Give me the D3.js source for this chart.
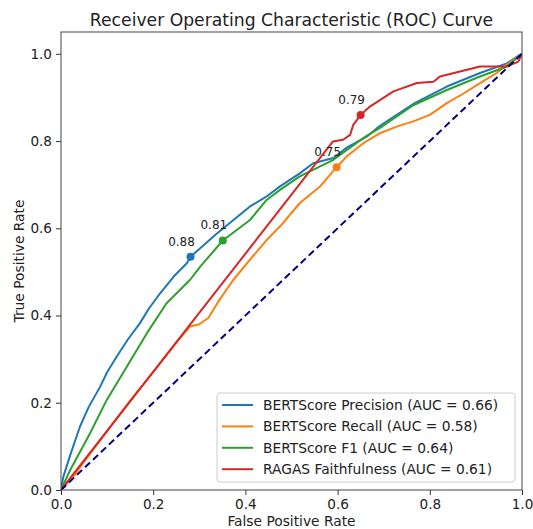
<!DOCTYPE html>
<html>
<head>
<meta charset="utf-8">
<script src="https://cdn.jsdelivr.net/npm/d3@7"></script>
<style>
  body { margin: 0; background: #fff; }
  svg { display: block; font-family: "DejaVu Sans", sans-serif; }
</style>
</head>
<body>
<svg id="chart" width="533" height="529"></svg>
<script>
// ROC points: [fpr, tpr]
const precisionPts = [[0,0],[0.005,0.03],[0.02,0.08],[0.041,0.145],[0.06,0.19],[0.085,0.237],[0.1,0.27],[0.121,0.306],[0.145,0.345],[0.171,0.382],[0.19,0.415],[0.215,0.451],[0.245,0.49],[0.273,0.52],[0.281,0.535],[0.302,0.554],[0.335,0.585],[0.374,0.619],[0.41,0.65],[0.446,0.673],[0.475,0.696],[0.518,0.726],[0.547,0.749],[0.591,0.761],[0.62,0.785],[0.663,0.81],[0.692,0.835],[0.764,0.885],[0.837,0.925],[0.909,0.956],[0.967,0.978],[0.996,0.998],[1,1]];
const recallPts = [[0,0],[0.03,0.035],[0.05,0.065],[0.1,0.135],[0.15,0.205],[0.2,0.27],[0.25,0.338],[0.28,0.375],[0.3,0.38],[0.32,0.395],[0.34,0.43],[0.374,0.482],[0.41,0.528],[0.446,0.573],[0.475,0.604],[0.518,0.658],[0.562,0.696],[0.598,0.74],[0.62,0.765],[0.656,0.795],[0.692,0.818],[0.728,0.833],[0.764,0.845],[0.8,0.86],[0.837,0.887],[0.873,0.909],[0.909,0.933],[0.945,0.956],[0.967,0.975],[1,1]];
const f1Pts = [[0,0],[0.02,0.046],[0.063,0.13],[0.099,0.206],[0.143,0.283],[0.186,0.359],[0.229,0.428],[0.28,0.482],[0.302,0.512],[0.351,0.572],[0.41,0.619],[0.446,0.665],[0.475,0.688],[0.518,0.719],[0.591,0.757],[0.663,0.812],[0.692,0.83],[0.764,0.882],[0.837,0.917],[0.909,0.948],[0.967,0.971],[1,1]];
const ragasPts = [[0,0],[0.59,0.799],[0.612,0.803],[0.627,0.814],[0.634,0.837],[0.65,0.86],[0.67,0.879],[0.721,0.914],[0.772,0.933],[0.808,0.936],[0.822,0.948],[0.909,0.971],[0.967,0.971],[0.992,0.982],[1,1]];

const seriesNames = ["BERTScore Precision", "BERTScore Recall", "BERTScore F1", "RAGAS Faithfulness"];
const aucValues = [0.66, 0.58, 0.64, 0.61];
const seriesColors = ["#1f77b4", "#ff7f0e", "#2ca02c", "#d62728"];
// best threshold markers
const optPoints = [[0.281,0.535],[0.598,0.74],[0.351,0.572],[0.65,0.86]];
const optThresholds = [0.88, 0.75, 0.81, 0.79];

const xTicks = [0, 0.2, 0.4, 0.6, 0.8, 1.0];
const yTicks = [0, 0.2, 0.4, 0.6, 0.8, 1.0];

const canvas = {"width": 533, "height": 529,
	"marginLeft": 61, "marginTop": 32, "marginRight": 11, "marginBottom": 39};

const svg = d3.select("#chart");

const x = d3.scaleLinear()
	.domain([0, 1])
	.range([canvas.marginLeft, canvas.width - canvas.marginRight]);

const y = d3.scaleLinear()
	.domain([0, 1.05])
	.range([canvas.height - canvas.marginBottom, canvas.marginTop]);

svg.append("clipPath").attr("id", "clip")
	.append("rect")
	.attr("x", x(0)).attr("y", y(1.05))
	.attr("width", x(1) - x(0)).attr("height", y(0) - y(1.05));

// axes
svg.append("g")
	.attr("transform", `translate(0,${y(0)})`)
	.call(d3.axisBottom(x).tickValues(xTicks).tickFormat(d3.format(".1f")).tickSizeOuter(0).tickSize(5).tickPadding(4))
	.call(g => g.select(".domain").remove())
	.call(g => g.selectAll("line").attr("stroke", "#333"))
	.call(g => g.selectAll("text").attr("font-size", 13.6).attr("fill", "#222").attr("font-family", "DejaVu Sans"));

svg.append("g")
	.attr("transform", `translate(${x(0)},0)`)
	.call(d3.axisLeft(y).tickValues(yTicks).tickFormat(d3.format(".1f")).tickSizeOuter(0).tickSize(5).tickPadding(4))
	.call(g => g.select(".domain").remove())
	.call(g => g.selectAll("line").attr("stroke", "#333"))
	.call(g => g.selectAll("text").attr("font-size", 13.6).attr("fill", "#222").attr("font-family", "DejaVu Sans"));

const plot = svg.append("g").attr("clip-path", "url(#clip)");

const line = d3.line()
	.x(d => x(d[0]))
	.y(d => y(d[1]));

const allPts = [precisionPts, recallPts, f1Pts, ragasPts];

allPts.forEach((pts, i) => {
	plot.append("path")
		.datum(pts)
		.attr("d", line)
		.attr("fill", "none")
		.attr("stroke", seriesColors[i])
		.attr("stroke-width", 2)
		.attr("stroke-linejoin", "round");
});

// chance line
plot.append("path")
	.datum([[0, 0], [1, 1]])
	.attr("d", line)
	.attr("fill", "none")
	.attr("stroke", "navy")
	.attr("stroke-width", 2)
	.attr("stroke-dasharray", "7,4");

optPoints.forEach((p, i) => {
	svg.append("circle")
		.attr("cx", x(p[0]))
		.attr("cy", y(p[1]))
		.attr("r", 4)
		.attr("fill", seriesColors[i]);
	svg.append("text")
		.attr("x", x(p[0]) - 9)
		.attr("y", y(p[1]) - 11)
		.attr("text-anchor", "middle")
		.attr("font-size", 12)
		.attr("fill", "#222")
		.text(optThresholds[i].toFixed(2));
});

// frame
svg.append("rect")
	.attr("x", x(0)).attr("y", y(1.05))
	.attr("width", x(1) - x(0)).attr("height", y(0) - y(1.05))
	.attr("fill", "none")
	.attr("stroke", "#444")
	.attr("stroke-width", 1);

// titles
svg.append("text")
	.attr("x", (x(0) + x(1)) / 2)
	.attr("y", 26)
	.attr("text-anchor", "middle")
	.attr("font-size", 17.2)
	.attr("fill", "#222")
	.text("Receiver Operating Characteristic (ROC) Curve");

svg.append("text")
	.attr("x", (x(0) + x(1)) / 2)
	.attr("y", 526)
	.attr("text-anchor", "middle")
	.attr("font-size", 13.8)
	.attr("fill", "#222")
	.text("False Positive Rate");

svg.append("text")
	.attr("transform", `translate(24,${(y(0) + y(1.05)) / 2}) rotate(-90)`)
	.attr("text-anchor", "middle")
	.attr("font-size", 13.8)
	.attr("fill", "#222")
	.text("True Positive Rate");

// legend
const legend = svg.append("g").attr("transform", "translate(217,393)");
legend.append("rect")
	.attr("width", 298).attr("height", 89)
	.attr("rx", 3)
	.attr("fill", "white").attr("fill-opacity", 0.8)
	.attr("stroke", "#ccc");

seriesNames.forEach((name, i) => {
	const row = legend.append("g").attr("transform", `translate(0,${12 + i * 21.4})`);
	row.append("line")
		.attr("x1", 5).attr("x2", 36)
		.attr("stroke", seriesColors[i]).attr("stroke-width", 2);
	row.append("text")
		.attr("x", 46).attr("y", 5)
		.attr("font-size", 13.8)
		.attr("fill", "#222")
		.text(`${name} (AUC = ${aucValues[i].toFixed(2)})`);
});
</script>
</body>
</html>
